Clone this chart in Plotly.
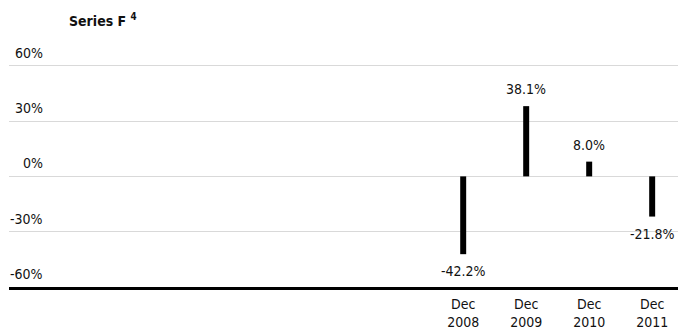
import plotly.graph_objects as go

# Year-end values of Series F (per cent)
years = [2008, 2009, 2010, 2011]
values = [-42.2, 38.1, 8.0, -21.8]
year_labels = ["Dec<br>2008", "Dec<br>2009", "Dec<br>2010", "Dec<br>2011"]
y_ticks = [60, 30, 0, -30, -60]
y_tick_labels = ["60%", "30%", "0%", "-30%", "-60%"]

FONT = "Liberation Sans Narrow, DejaVu Sans Condensed, Arial Narrow, sans-serif"
TEXT_COLOR = "#111111"

fig = go.Figure()
fig.add_trace(go.Bar(
    x=years,
    y=values,
    width=0.095,
    marker=dict(color="#000000", line=dict(width=0)),
    hoverinfo="skip",
))

# value labels: above positive bars, below negative ones
for x, v in zip(years, values):
    up = v >= 0
    fig.add_annotation(
        x=x, y=v, xref="x", yref="y",
        yanchor="bottom" if up else "top",
        yshift=7 if up else -7,
        text=f"{v:.1f}%", showarrow=False,
        font=dict(family=FONT, size=14, color=TEXT_COLOR),
    )

# y-axis labels sit right-aligned just above each gridline
for v, lab in zip(y_ticks, y_tick_labels):
    fig.add_annotation(
        x=0.054, xref="paper", xanchor="right",
        y=v, yref="y", yanchor="bottom", yshift=3,
        text=lab, showarrow=False,
        font=dict(family=FONT, size=14, color=TEXT_COLOR),
    )

fig.add_annotation(
    x=0.086, xref="paper", xanchor="left",
    y=1.19, yref="paper", yanchor="middle",
    text="<b>Series F <sup>4</sup></b>", showarrow=False,
    font=dict(family=FONT, size=14, color=TEXT_COLOR),
)

fig.update_layout(
    width=678, height=335,
    margin=dict(l=9, r=0, t=63, b=48),
    paper_bgcolor="white", plot_bgcolor="white",
    showlegend=False,
    xaxis=dict(
        range=[2000.79, 2011.41],
        tickvals=years, ticktext=year_labels,
        tickfont=dict(family=FONT, size=14, color=TEXT_COLOR),
        ticklabelstandoff=2,
        showgrid=False, zeroline=False,
        showline=True, linecolor="#000000", linewidth=2.5,
        ticks="", fixedrange=True,
    ),
    yaxis=dict(
        range=[-60, 61.5],
        tickvals=y_ticks, showticklabels=False,
        showgrid=True, gridcolor="#d9d9d9", gridwidth=1,
        zeroline=False, showline=False, ticks="",
    ),
)

fig.write_html("out.html")
